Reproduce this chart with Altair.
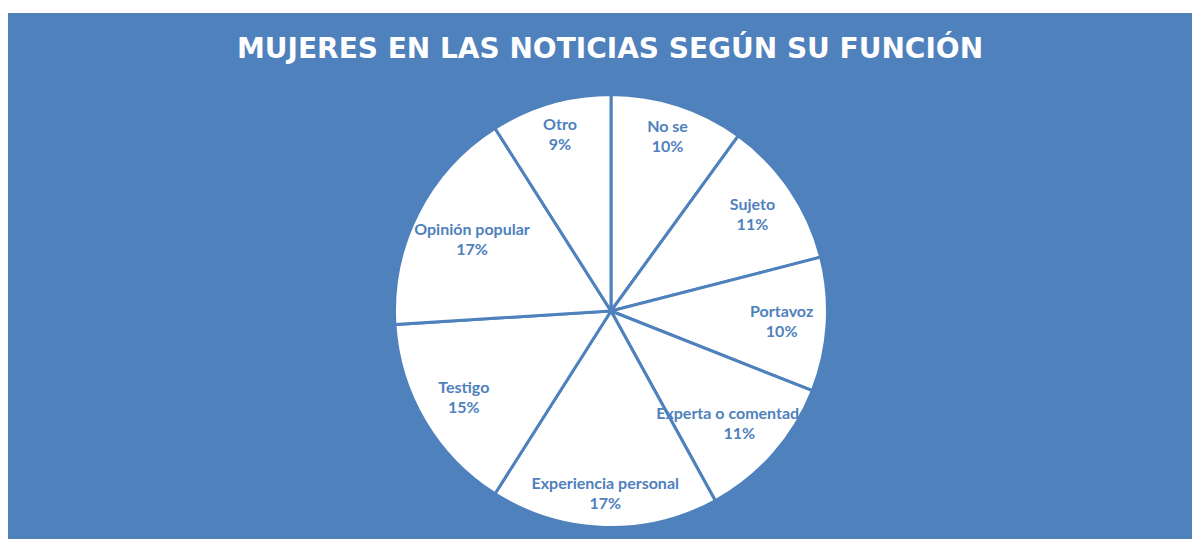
import altair as alt
import pandas as pd

categories = ["No se", "Sujeto", "Portavoz", "Experta o comentadora",
              "Experiencia personal", "Testigo", "Opinión popular", "Otro"]
values = [10, 11, 10, 11, 17, 15, 17, 9]
title_text = "MUJERES EN LAS NOTICIAS SEGÚN SU FUNCIÓN"

# label placement groups (Excel "best fit" look)
outer_labels = ["No se", "Otro", "Experiencia personal"]
inner_labels = ["Opinión popular"]

BLUE = "#4F81BD"
W, H = 1184, 531
CX, CY = 603, 303

df = pd.DataFrame({
    "categoria": categories,
    "valor": values,
    "orden": list(range(len(categories))),
})
df["etiqueta"] = [f"{c}\n{v}%" for c, v in zip(categories, values)]

bg = alt.Chart(pd.DataFrame({"a": [0]})).mark_rect(color=BLUE).encode(
    x=alt.value(0), x2=alt.value(W), y=alt.value(5), y2=alt.value(H)
)

base = alt.Chart(df).encode(
    theta=alt.Theta("valor:Q", stack=True),
    order=alt.Order("orden:Q"),
)

pie = base.mark_arc(outerRadius=216.5, fill="white", stroke=BLUE, strokeWidth=3).encode(
    x=alt.value(CX), y=alt.value(CY)
)

def label_layer(radius, filt):
    return base.mark_text(
        radius=radius, font="Lato", fontWeight="bold", fontSize=16, dy=-10,
        color=BLUE, lineBreak="\n", lineHeight=20, align="center", baseline="middle"
    ).encode(
        x=alt.value(CX), y=alt.value(CY), text="etiqueta:N",
        opacity=alt.condition(filt, alt.value(1), alt.value(0)),
    )

mid_filter = ~alt.FieldOneOfPredicate(field="categoria", oneOf=outer_labels + inner_labels)
labels_outer = label_layer(183, alt.FieldOneOfPredicate(field="categoria", oneOf=outer_labels))
labels_mid = label_layer(171, mid_filter)
labels_inner = label_layer(156, alt.FieldOneOfPredicate(field="categoria", oneOf=inner_labels))

title = alt.Chart(pd.DataFrame({"t": [title_text]})).mark_text(
    font="DejaVu Sans", fontWeight="bold", fontSize=28, color="white",
    align="center", baseline="alphabetic"
).encode(x=alt.value(602), y=alt.value(50), text="t:N")

chart = alt.layer(bg, pie, labels_outer, labels_mid, labels_inner, title).properties(
    width=W, height=H, padding=0, autosize=alt.AutoSizeParams(type="none"),
    background="white"
).configure_view(stroke=None)

chart.save("out.html", embed_options={"renderer": "svg", "actions": False})
